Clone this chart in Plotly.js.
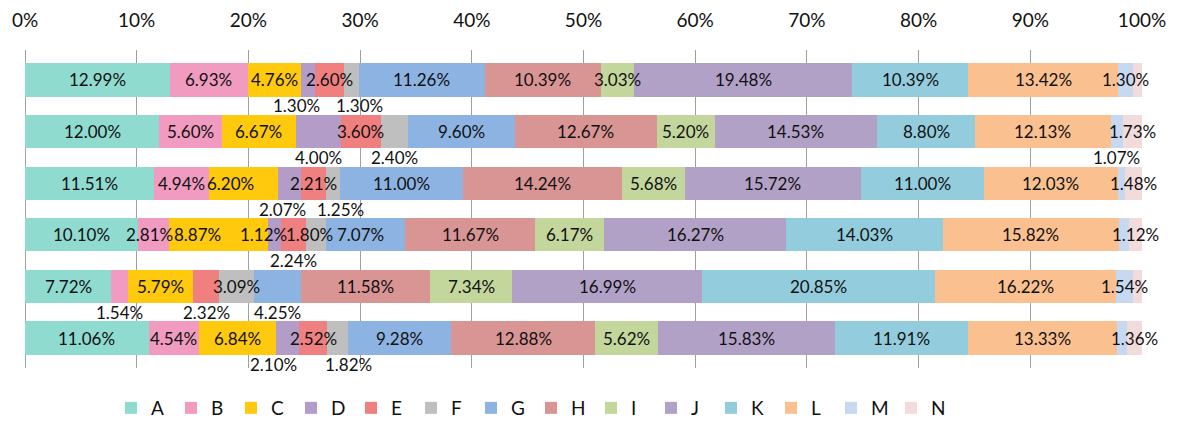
<!DOCTYPE html>
<html>
<head>
<meta charset="utf-8">
<script src="https://cdn.plot.ly/plotly-3.0.1.min.js"></script>
<style>html,body{margin:0;padding:0;background:#fff;}#chart{width:1177px;height:421px;}</style>
</head>
<body>
<div id="chart"></div>
<script>
// Rows (top to bottom); the category names are cut off in the reference
const categories = ['R1', 'R2', 'R3', 'R4', 'R5', 'R6'];
const seriesNames = ['A','B','C','D','E','F','G','H','I','J','K','L','M','N'];

const A = [12.99, 12.00, 11.51, 10.10, 7.72, 11.06];
const B = [6.93, 5.60, 4.94, 2.81, 1.54, 4.54];
const C = [4.76, 6.67, 6.20, 8.87, 5.79, 6.84];
const D = [1.30, 4.00, 2.07, 1.12, 0.00, 2.10];
const E = [2.60, 3.60, 2.21, 2.24, 2.32, 2.52];
const F = [1.30, 2.40, 1.25, 1.80, 3.09, 1.82];
const G = [11.26, 9.60, 11.00, 7.07, 4.25, 9.28];
const H = [10.39, 12.67, 14.24, 11.67, 11.58, 12.88];
const I = [3.03, 5.20, 5.68, 6.17, 7.34, 5.62];
const J = [19.48, 14.53, 15.72, 16.27, 16.99, 15.83];
const K = [10.39, 8.80, 11.00, 14.03, 20.85, 11.91];
const L = [13.42, 12.13, 12.03, 15.82, 16.22, 13.33];
const M = [1.30, 1.07, 0.67, 0.91, 1.54, 0.91];
const N = [0.85, 1.73, 1.48, 1.12, 0.77, 1.36];

const values = [A,B,C,D,E,F,G,H,I,J,K,L,M,N];

const colors = ['#8fdbcf','#f09bbf','#ffc90e','#b49cc8','#f08080','#bfbfbf','#8db3e2',
                '#d99594','#c3d69b','#b2a1c7','#93cddd','#fac090','#c6d9f0','#f2dcdb'];

// label placement per series (rows top->bottom): 'i' = in bar, 'b' = below bar, '' = none
const labelPlace = {
  A: ['i','i','i','i','i','i'],
  B: ['i','i','i','i','b','i'],
  C: ['i','i','i','i','i','i'],
  D: ['b','b','b','i','','b'],
  E: ['i','i','i','b','b','i'],
  F: ['b','b','b','i','i','b'],
  G: ['i','i','i','i','b','i'],
  H: ['i','i','i','i','i','i'],
  I: ['i','i','i','i','i','i'],
  J: ['i','i','i','i','i','i'],
  K: ['i','i','i','i','i','i'],
  L: ['i','i','i','i','i','i'],
  M: ['i','b','','','i',''],
  N: ['','i','i','i','','i']
};
// manual horizontal nudges of some labels (px), key = series + row index
const labelNudge = {
  'B3': -4, 'C2': -13, 'C3': -21, 'D0': -11, 'D2': -7, 'D3': -11, 'D5': -14,
  'F0': 8, 'F2': 8, 'F3': -6, 'F5': 11, 'G3': -5
};

const FONT = 'Lato, "Liberation Sans", Arial, sans-serif';

const traces = seriesNames.map((name, s) => ({
  type: 'bar',
  orientation: 'h',
  name: name,
  y: categories,
  x: values[s],
  marker: {color: colors[s], line: {width: 0}},
  hoverinfo: 'x+name'
}));

const annotations = [];
categories.forEach((cat, r) => {
  const total = values.reduce((acc, arr) => acc + arr[r], 0);
  let cum = 0;
  seriesNames.forEach((name, s) => {
    const v = values[s][r];
    const start = cum / total * 100;
    cum += v;
    const end = cum / total * 100;
    const place = labelPlace[name][r];
    if (!place || v <= 0) return;
    annotations.push({
      x: (start + end) / 2,
      y: r,
      xref: 'x', yref: 'y',
      text: v.toFixed(2) + '%',
      showarrow: false,
      xshift: labelNudge[name + r] || 0,
      yshift: place === 'b' ? -26 : 0,
      font: {family: FONT, size: 17, color: '#111'}
    });
  });
});

const layout = {
  width: 1177, height: 421,
  margin: {l: 25, r: 35, t: 50, b: 53, autoexpand: false},
  paper_bgcolor: '#fff', plot_bgcolor: '#fff',
  barmode: 'stack',
  bargap: 0.355,
  font: {family: FONT, color: '#111'},
  xaxis: {
    side: 'top',
    range: [0, 100],
    dtick: 10,
    ticksuffix: '%',
    showgrid: true,
    gridcolor: '#a0a0a0',
    gridwidth: 1,
    zeroline: true,
    zerolinecolor: '#a0a0a0',
    zerolinewidth: 1,
    showline: false,
    ticks: '',
    ticklabelstandoff: 18,
    tickfont: {family: FONT, size: 19, color: '#111'},
    automargin: false,
    fixedrange: true
  },
  yaxis: {
    type: 'category',
    range: [5.58, -0.58],
    showticklabels: false,
    showgrid: false,
    zeroline: false,
    ticks: '',
    automargin: false,
    fixedrange: true
  },
  showlegend: true,
  legend: {
    orientation: 'h',
    xref: 'container', yref: 'container',
    x: 111 / 1177, xanchor: 'left',
    y: 13 / 421, yanchor: 'middle',
    traceorder: 'normal',
    entrywidth: 15, entrywidthmode: 'pixels',
    font: {family: FONT, size: 19, color: '#111'},
    itemclick: false, itemdoubleclick: false
  },
  annotations: annotations
};

Plotly.newPlot('chart', traces, layout, {displayModeBar: false, staticPlot: true});
</script>
</body>
</html>
